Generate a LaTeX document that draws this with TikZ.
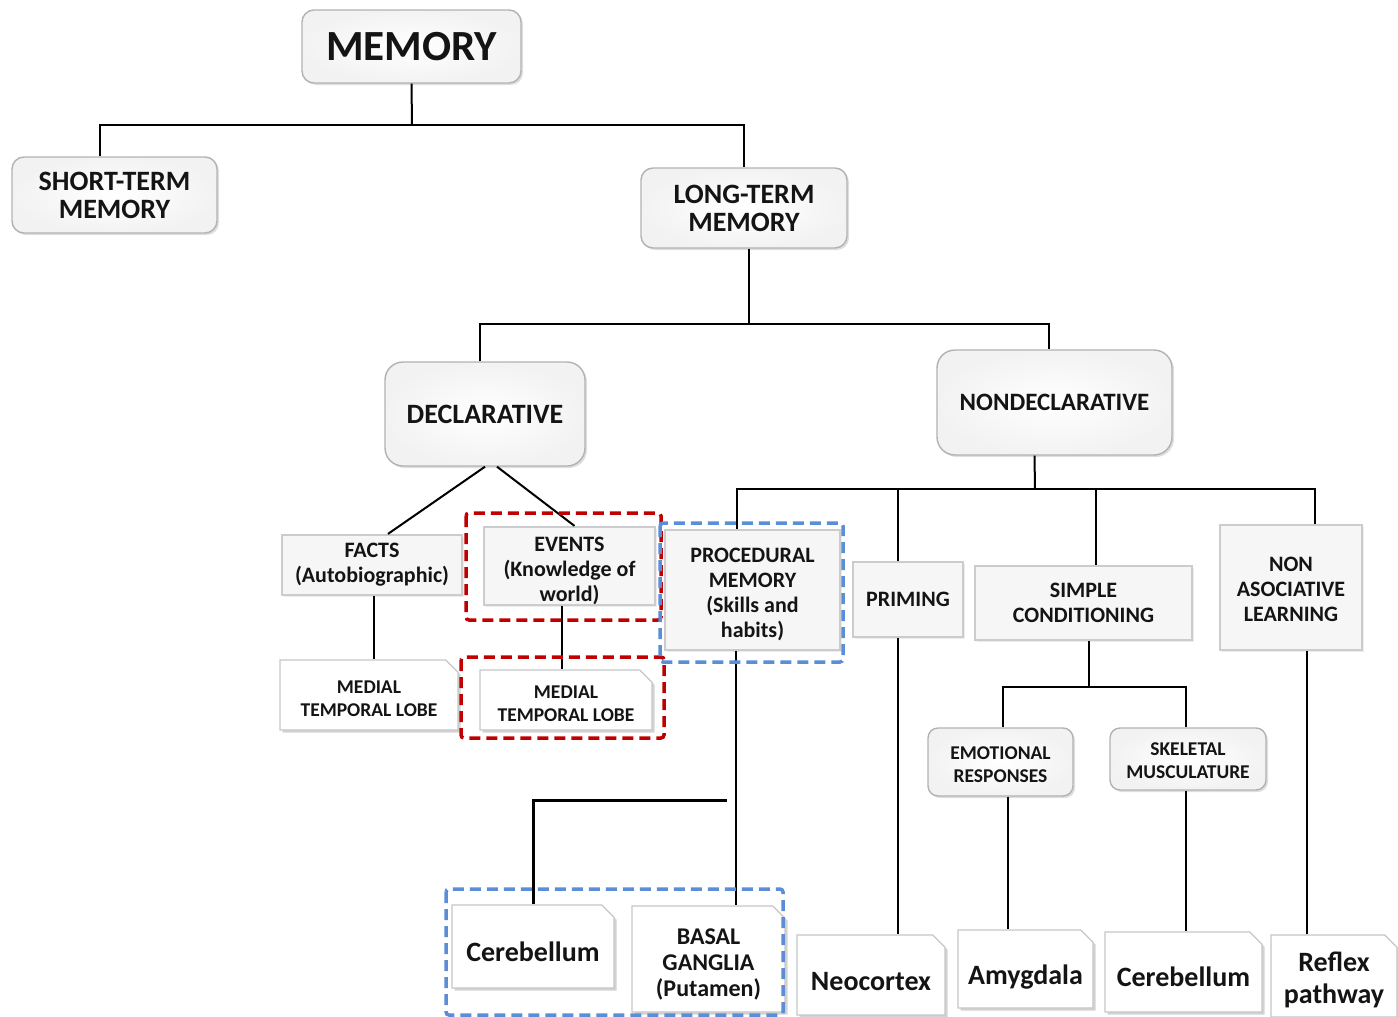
\documentclass[tikz,border=0pt]{standalone}
\usepackage{fontspec}
\setmainfont{Carlito}
\usepackage{tikz}
\usetikzlibrary{shapes.misc,shadows}

\definecolor{frred}{HTML}{C00000}
\definecolor{frblue}{HTML}{5B8ED6}
\newcommand{\lowstrut}[1]{\rule{0pt}{#1}}

\begin{document}
\begin{tikzpicture}[x=1pt,y=-1pt,
	roundbox/.style={draw=gray!60,line width=1.4pt,rounded corners=12pt,inner color=white,outer color=gray!10,
		drop shadow={opacity=0.25,shadow xshift=2pt,shadow yshift=-2pt},align=center,inner sep=0pt,text=black!92},
	bevelbox/.style={draw=gray!40,line width=2.2pt,fill=gray!7,
		drop shadow={opacity=0.15,shadow xshift=1.5pt,shadow yshift=-1.5pt},align=center,inner sep=0pt,text=black!92},
	foldbox/.style={chamfered rectangle,chamfered rectangle corners=north east,chamfered rectangle xsep=9pt,
		draw=gray!45,line width=1.2pt,fill=white,
		drop shadow={opacity=0.35,shadow xshift=2.5pt,shadow yshift=-2.5pt},align=center,inner sep=0pt,text=black!92},
	lowtext/.style={execute at begin node={\rule{0pt}{#1}}},
	frame/.style={line width=3.5pt,dash pattern=on 11pt off 6pt,rounded corners=3pt},
	link/.style={line width=2pt,black},
	ftitle/.style={font=\fontsize{43}{48}\selectfont\bfseries},
	fhead/.style={font=\fontsize{28}{28}\selectfont\bfseries},
	fmid/.style={font=\fontsize{22}{25}\selectfont\bfseries},
	fsmall/.style={font=\fontsize{19.5}{23}\selectfont\bfseries},
	fleaf/.style={font=\fontsize{28}{32}\selectfont\bfseries}]

	\useasboundingbox (0,0) rectangle (1398,1017);

	% upper levels
	\node[roundbox,ftitle,minimum width=219pt,minimum height=73pt] (memory) at (411.5,46.5) {MEMORY};
	\node[roundbox,fhead,minimum width=205pt,minimum height=76pt] (short) at (114.5,195) {SHORT-TERM\\MEMORY};
	\node[roundbox,fhead,minimum width=206pt,minimum height=80pt] (long) at (744,208) {LONG-TERM\\MEMORY};
	\node[roundbox,fhead,rounded corners=18pt,minimum width=200pt,minimum height=104pt] (decl) at (485,414) {DECLARATIVE};
	\node[roundbox,fhead,font=\fontsize{25}{28}\selectfont\bfseries,rounded corners=18pt,minimum width=235pt,minimum height=105pt] (nondecl) at (1054.5,402.5) {NONDECLARATIVE};

	% memory types
	\node[bevelbox,fmid,minimum width=180pt,minimum height=60pt] (facts) at (372,565) {FACTS\\(Autobiographic)};
	\node[bevelbox,fmid,minimum width=171pt,minimum height=78pt] (events) at (569.5,566) {\lowstrut{24pt}EVENTS\\(Knowledge of\\world)};
	\node[bevelbox,fmid,minimum width=175pt,minimum height=120pt] (proc) at (752.5,590) {\lowstrut{24pt}PROCEDURAL\\MEMORY\\(Skills and\\habits)};
	\node[bevelbox,fmid,minimum width=110pt,minimum height=75pt] (priming) at (908,599.5) {PRIMING};
	\node[bevelbox,fmid,minimum width=217pt,minimum height=74pt] (simple) at (1083.5,603) {SIMPLE\\CONDITIONING};
	\node[bevelbox,fmid,minimum width=142pt,minimum height=125pt] (nonassoc) at (1291,587.5) {\lowstrut{18pt}NON\\ASOCIATIVE\\LEARNING};

	\node[roundbox,fsmall,rounded corners=10pt,minimum width=145pt,minimum height=68pt] (emo) at (1000.5,762) {\lowstrut{18.5pt}EMOTIONAL\\RESPONSES};
	\node[roundbox,fsmall,rounded corners=10pt,minimum width=156pt,minimum height=62pt] (skel) at (1188,759) {\lowstrut{16.5pt}SKELETAL\\MUSCULATURE};

	% brain structures
	\node[foldbox,fsmall,minimum width=178pt,minimum height=70pt] (mtlA) at (369,695) {\lowstrut{20.5pt}MEDIAL\\TEMPORAL LOBE};
	\node[foldbox,fsmall,minimum width=172pt,minimum height=60pt] (mtlB) at (566,700) {\lowstrut{20.5pt}MEDIAL\\TEMPORAL LOBE};
	\node[foldbox,fleaf,lowtext=30pt,minimum width=162pt,minimum height=83pt] (cereA) at (533,946.5) {Cerebellum};
	\node[foldbox,fmid,font=\fontsize{24}{26}\selectfont\bfseries,minimum width=153pt,minimum height=106pt] (basal) at (708.5,959) {\lowstrut{27.5pt}BASAL\\GANGLIA\\(Putamen)};
	\node[foldbox,fleaf,lowtext=32pt,minimum width=148pt,minimum height=80pt] (neo) at (871,975) {Neocortex};
	\node[foldbox,fleaf,lowtext=36pt,minimum width=135pt,minimum height=78pt] (amyg) at (1025.5,969) {Amygdala};
	\node[foldbox,fleaf,lowtext=29pt,minimum width=157pt,minimum height=80pt] (cereB) at (1183.5,972) {Cerebellum};
	\node[foldbox,fleaf,minimum width=126pt,minimum height=82pt] (reflex) at (1334,976) {\lowstrut{28pt}Reflex\\pathway};

	% connectors
	\coordinate (busA) at (412,125);
	\coordinate (busB) at (749,324);
	\coordinate (busC) at (1035,489);
	\coordinate (busD) at (1089,687);
	\coordinate (elbow) at (727,800);

	\draw[link] (memory.south) -- (busA);
	\draw[link] ([xshift=-15pt]short.north) |- (busA) -| (long.north);
	\draw[link] ([xshift=5pt]long.south) -- (busB);
	\draw[link] ([xshift=-5pt]decl.north) |- (busB) -| ([xshift=-6pt]nondecl.north);
	\path[link] (decl.south) edge ([xshift=16pt]facts.north);
	\path[link] ([xshift=12pt]decl.south) edge ([xshift=5pt]events.north);
	\draw[link] ([xshift=2pt]facts.south) -- ([xshift=2pt]facts.south |- mtlA.north);
	\draw[link] ([xshift=-8pt]events.south) -- ([xshift=-8pt]events.south |- mtlB.north);

	\draw[link] ([xshift=-20pt]nondecl.south) -- (busC);
	\draw[link] ([xshift=-16pt]proc.north) |- (busC) -| ([xshift=24pt]nonassoc.north);
	\draw[link] ([xshift=-10pt]priming.north) |- (busC);
	\draw[link] ([xshift=12.5pt]simple.north) |- (busC);

	\draw[link] ([xshift=-17pt]proc.south) -- ([xshift=-17pt]proc.south |- basal.north);
	\draw[link,line width=3pt] (elbow) -| (cereA.north);
	\draw[link] ([xshift=-10pt]priming.south) -- ([xshift=-10pt]priming.south |- neo.north);
	\draw[link] ([xshift=5.5pt]simple.south) -- (busD);
	\draw[link] ([xshift=2.5pt]emo.north) |- (busD) -| ([xshift=-2pt]skel.north);
	\draw[link] ([xshift=7.5pt]emo.south) -- ([xshift=7.5pt]emo.south |- amyg.north);
	\draw[link] ([xshift=-2pt]skel.south) -- ([xshift=-2pt]skel.south |- cereB.north);
	\draw[link] ([xshift=16pt]nonassoc.south) -- ([xshift=16pt]nonassoc.south |- reflex.north);

	% highlight frames
	\draw[frame,draw=frred] (466,513) rectangle (661,620);
	\draw[frame,draw=frred] (461,657) rectangle (664,738);
	\draw[frame,draw=frblue] (660,523) rectangle (843,662);
	\draw[frame,draw=frblue] (446,889) rectangle (783,1015);

\end{tikzpicture}
\end{document}
